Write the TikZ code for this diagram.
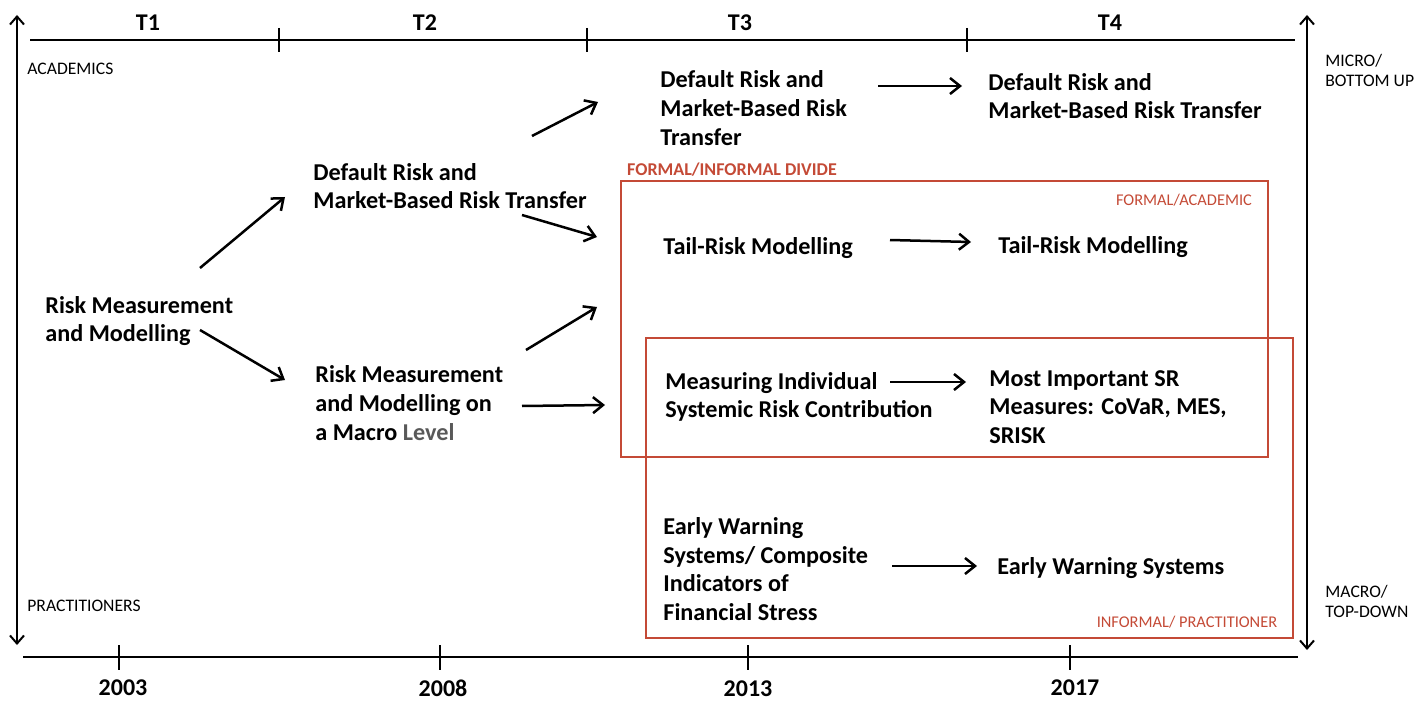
\documentclass[tikz,border=0pt]{standalone}
\usepackage{fontspec}
\setmainfont{Carlito}
\usetikzlibrary{arrows.meta}
\definecolor{boxred}{RGB}{196,74,54}
\begin{document}
\begin{tikzpicture}[
					x = 0.5pt, y = -0.5pt,
					topic/.style = {
						anchor = west,
						align = left,
						inner sep = 0pt,
						font = \fontsize{12.1}{14.3}\selectfont\bfseries,
					},
					side/.style = {
						anchor = west,
						align = left,
						inner sep = 0pt,
						font = \fontsize{8.8}{10}\selectfont,
					},
					redlabel/.style = {
						inner sep = 0pt,
						text = boxred,
						font = \fontsize{8.2}{10}\selectfont,
					},
					period/.style = {
						inner sep = 0pt,
						font = \fontsize{12}{14}\selectfont\bfseries,
					},
					arr/.style = {
						line width = 1.25pt,
						-{Straight Barb[length = 5pt, width = 8pt]},
					},
					axis/.style = {
						line width = 1pt,
					},
					redbox/.style = {
						draw = boxred,
						line width = 1pt,
					},
			]
				\useasboundingbox (0, 0) rectangle (1415, 701);

				% time axes
				\draw[axis] (30, 40) -- (1295, 40);
				\draw[axis] (279, 28) -- (279, 52);
				\draw[axis] (587, 28) -- (587, 52);
				\draw[axis] (967, 28) -- (967, 52);
				\draw[axis] (23, 657) -- (1298, 657);
				\draw[axis] (119, 645) -- (119, 670);
				\draw[axis] (440, 645) -- (440, 670);
				\draw[axis] (748, 645) -- (748, 670);
				\draw[axis] (1070, 645) -- (1070, 670);
				\draw[axis, {Straight Barb[length = 4pt, width = 7pt]}-{Straight Barb[length = 4pt, width = 7pt]}] (17, 15) -- (17, 645);
				\draw[axis, {Straight Barb[length = 4pt, width = 7pt]}-{Straight Barb[length = 4pt, width = 7pt]}] (1307, 15) -- (1307, 650);

				\draw (148, 23) node (t1) [period] {T1};
				\draw (425, 23) node (t2) [period] {T2};
				\draw (740, 23) node (t3) [period] {T3};
				\draw (1110, 23) node (t4) [period] {T4};
				\draw (123, 688) node (y1) [period] {2003};
				\draw (443, 688) node (y2) [period] {2008};
				\draw (748, 689) node (y3) [period] {2013};
				\draw (1075, 688) node (y4) [period] {2017};

				\draw (27, 69) node (acad) [side] {ACADEMICS};
				\draw (27, 606) node (prac) [side] {PRACTITIONERS};
				\draw (1325, 70) node (micro) [side] {MICRO/\\BOTTOM UP};
				\draw (1325, 601) node (macro) [side] {MACRO/\\TOP-DOWN};

				% formal / informal boxes
				\draw[redbox] (621, 181) rectangle (1268, 457);
				\draw[redbox] (646, 338) rectangle (1293, 638);
				\draw (732, 170) node (divide) [redlabel, font = \fontsize{9}{10}\selectfont\bfseries] {FORMAL/INFORMAL DIVIDE};
				\draw (1184, 200) node (formal) [redlabel] {FORMAL/ACADEMIC};
				\draw (1187, 622) node (informal) [redlabel] {INFORMAL/ PRACTITIONER};

				% topics
				\draw (45, 321) node (rmm) [topic] {Risk Measurement\\and Modelling};
				\draw (313, 186) node (drt2) [topic] {Default Risk and\\Market-Based Risk Transfer};
				\draw (315, 403) node (rmmm) [topic] {Risk Measurement\\and Modelling on\\a Macro {\color{black!65}Level}};
				\draw (660, 108) node (drt3) [topic] {Default Risk and\\Market-Based Risk\\Transfer};
				\draw (663, 248) node (tail3) [topic] {Tail-Risk Modelling};
				\draw (665, 397) node (mir3) [topic] {Measuring Individual\\Systemic Risk Contribution};
				\draw (663, 569) node (ews3) [topic] {Early Warning\\Systems/ Composite\\Indicators of\\Financial Stress};
				\draw (988, 96) node (drt4) [topic] {Default Risk and\\Market-Based Risk Transfer};
				\draw (998, 247) node (tail4) [topic] {Tail-Risk Modelling};
				\draw (989, 407) node (srm4) [topic] {Most Important SR\\Measures: CoVaR, MES,\\SRISK};
				\draw (997, 568) node (ews4) [topic] {Early Warning Systems};

				\draw[arr] ([shift = {(155, -53)}]rmm.west) -- ([shift = {(-28, 11)}]drt2.west);
				\draw[arr] ([shift = {(155, 9)}]rmm.west) -- ([shift = {(-30, -23)}]rmmm.west);
				\draw[arr] ([shift = {(219, -50)}]drt2.west) -- ([shift = {(-62, -6)}]drt3.west);
				\draw[arr] ([shift = {(209, 29)}]drt2.west) -- ([shift = {(-66, -11)}]tail3.west);
				\draw[arr] ([shift = {(211, -53)}]rmmm.west) -- ([shift = {(-66, 59)}]tail3.west);
				\draw[arr] ([shift = {(207, 3)}]rmmm.west) -- ([shift = {(-60, 8)}]mir3.west);
				\draw[arr] ([shift = {(218, -22)}]drt3.west) -- ([shift = {(-26, -10)}]drt4.west);
				\draw[arr] ([shift = {(227, -8)}]tail3.west) -- ([shift = {(-27, -5)}]tail4.west);
				\draw[arr] ([shift = {(225, -15)}]mir3.west) -- ([shift = {(-23, -25)}]srm4.west);
				\draw[arr] ([shift = {(229, -3)}]ews3.west) -- ([shift = {(-20, -2)}]ews4.west);
			\end{tikzpicture}
\end{document}
